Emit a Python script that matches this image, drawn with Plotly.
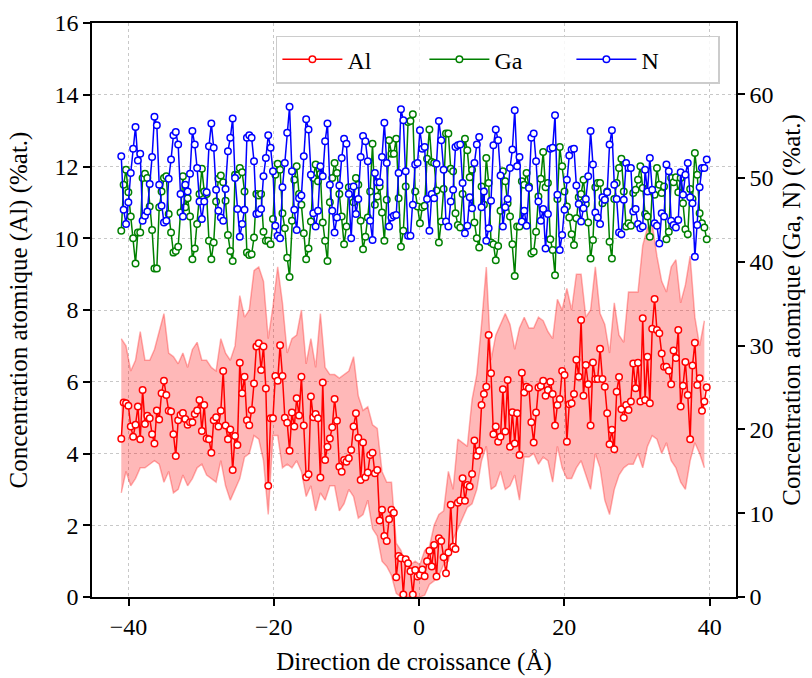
import numpy as np
import plotly.graph_objects as go

# ---------------- data ----------------
x_start, x_end = -41.0, 39.6

al = [4.41,5.42,5.40,5.33,4.75,4.47,4.80,5.31,4.40,5.77, 4.82,5.05,4.98,4.54,4.28,5.20,4.95,5.68,6.03,5.63,
      5.19,5.17,4.54,3.93,4.93,5.07,5.13,4.96,4.80,4.87, 4.87,5.10,5.20,5.49,4.63,5.35,4.42,4.40,4.02,4.93,
      5.01,4.75,5.19,6.30,4.78,4.40,4.67,3.54,4.49,4.24, 6.53,5.68,6.14,4.93,4.79,5.21,5.95,6.98,7.07,
      6.33,6.98,5.81,3.10,4.98,4.98,6.16,6.03,7.02,6.16, 5.00,4.86,4.08,5.14,4.75,5.54,5.06,6.14,4.78,3.34,
      3.42,5.59,5.01,5.10,4.98,3.33,5.98,3.82,4.19,4.42, 4.73,5.52,4.91,3.63,3.49,3.82,3.77,3.87,4.10,4.75,
      5.12,4.44,3.26,4.31,3.34,3.47,3.96,4.02,3.45,3.54, 2.13,2.43,1.70,1.56,2.17,2.43,2.35,0.55,1.14,1.08,
      0.07,1.05,0.94,0.72,0.07,0.75,
      0.57,0.61,0.77,0.58,1.00,1.29,0.85,1.45,0.57,1.64, 1.56,1.11,0.66,1.24,2.57,1.40,1.34,2.63,2.69,3.31,
      2.68,3.12,3.08,3.43,4.36,3.94,4.08,5.35,5.66,5.86, 7.30,6.24,4.54,4.75,4.33,4.47,5.79,4.61,6.05,4.19,
      5.15,4.28,5.12,3.96,6.25,5.70,5.86,5.82,4.87,4.31, 5.14,5.84,5.88,6.03,5.61,5.77,6.00,5.66,4.78,5.35,
      5.52,6.30,6.19,4.33,5.37,5.40,5.66,6.61,
      6.14,7.72,5.61,6.47,5.93,4.78,6.54,6.08,6.08,6.92, 6.08,5.86,5.12,4.26,4.66,4.12,5.72,6.13,5.23,5.00,
      5.35,5.21,5.45,6.51,5.82,6.53,5.45,7.77,5.49,6.70, 5.40,7.48,8.31,7.44,7.35,6.79,6.42,6.42,6.31,5.93,
      6.87,6.66,7.44,5.31,5.89,6.55,5.63,4.40,6.45,7.09, 5.91,6.10,5.19,5.45,5.85]

al_upper = [7.2,7.0,6.3,6.6,7.4,6.6,6.6,6.9,7.4,7.9,6.8,6.7,6.5,6.8,6.4,6.9,7.1,6.6,6.6,6.4,6.3,7.2,6.8,6.6,7.0,8.4,7.8,8.0,9.1,
            9.2,8.8,7.2,8.1,9.2,8.2,6.8,7.2,7.3,8.0,6.5,7.2,6.4,7.9,6.4,6.2,6.2,6.1,6.2,6.3,6.7,5.6,5.2,5.3,4.8,4.7,3.5,3.2,3.2,1.5,1.3,0.9,0.9,
            1.0,0.9,1.3,1.4,2.0,2.3,2.4,3.5,3.0,4.4,4.3,4.2,5.5,6.2,7.6,9.2,6.6,7.3,7.6,7.9,7.6,6.9,7.5,7.8,7.5,7.5,7.8,7.7,7.4,7.2,8.3,8.0,8.6,
            8.0,9.0,9.0,7.8,8.0,9.2,7.9,7.6,6.8,8.2,7.3,7.1,8.5,8.5,8.5,9.8,10.3,10.4,9.5,8.8,8.5,9.2,9.4,8.2,8.7,9.5,7.8,7.0,7.7]

al_lower = [2.9,3.5,3.1,3.3,3.6,3.6,3.7,3.8,3.7,3.2,3.5,2.9,3.0,3.4,3.1,3.3,3.6,3.7,3.4,3.3,3.2,3.8,3.1,2.7,3.0,3.3,3.9,4.0,4.5,
            4.4,3.8,2.3,4.5,4.5,3.6,3.7,3.6,3.8,3.5,2.8,3.1,2.4,2.9,2.7,3.1,3.1,2.4,2.6,3.0,2.8,2.2,2.3,2.7,1.9,1.7,1.0,0.85,0.6,0.1,0.0,0.0,0.0,
            0.0,0.0,0.05,0.35,0.45,0.6,0.9,1.0,1.6,1.9,2.2,2.5,2.6,3.0,3.8,4.2,3.0,3.1,3.5,3.0,3.1,3.4,2.7,3.9,3.9,4.0,3.7,3.9,3.8,3.2,4.2,3.6,3.3,
            3.3,3.6,3.8,3.4,3.0,4.0,3.6,2.7,2.3,3.0,3.4,3.6,3.7,3.7,4.0,3.6,4.2,4.5,4.4,4.0,4.3,3.8,3.6,3.2,3.0,3.8,4.3,4.0,3.6]

ga = [43.7,49.2,51.0,48.3,45.4,42.8,39.8,43.5,43.5,50.0, 50.5,50.0,46.6,43.8,39.2,39.2,46.5,48.4,50.0,50.2,
      45.7,43.5,41.1,41.3,41.8,45.9,50.2,46.5,47.6,45.4, 40.3,41.6,44.5,48.1,51.1,48.4,48.1,42.5,40.3,42.3,
      47.2,49.9,50.3,49.5,47.3,43.2,41.3,40.1,50.4,50.3, 51.2,50.7,48.4,41.1,40.8,40.9,42.9,48.1,
      47.9,48.1,43.6,42.5,42.5,42.1,45.1,50.4,51.7,51.0, 45.8,44.0,40.5,38.2,44.9,49.8,51.4,48.1,46.8,43.4,
      40.3,41.6,44.8,50.0,51.6,49.6,50.5,44.7,42.5,40.1, 47.1,50.0,51.8,50.6,48.1,45.4,42.1,44.2,48.9,48.4,
      47.1,50.0,49.2,44.9,41.5,43.0,45.3,48.4,54.1,46.8, 47.8,49.0,45.9,42.5,47.4,54.5,52.9,52.9,54.7,47.6,
      41.8,43.7,49.0,56.7,56.8,57.6,48.4,
      46.6,44.6,46.5,46.7,52.3,55.8,51.9,51.8,48.5,42.3, 44.8,48.7,55.3,55.3,51.1,50.8,45.8,44.4,44.1,48.1,
      54.7,53.3,50.1,51.0,44.7,42.8,41.7,49.0,46.8,52.4, 49.4,42.3,42.1,40.2,41.9,46.1,50.8,49.6,47.0,45.4,
      42.1,38.3,44.2,44.2,49.6,49.2,50.6,49.0,41.0,41.2, 43.6,47.8,49.9,53.1,48.9,49.4,42.7,41.4,38.4,47.5,
      53.7,51.4,48.4,46.6,45.3,43.3,42.0,45.2,
      47.7,48.1,49.8,46.9,44.7,40.4,42.6,48.9,49.4,49.4, 47.0,47.4,48.4,42.4,40.4,47.5,49.4,51.2,52.3,48.4,
      44.2,44.6,44.3,48.2,48.6,49.8,51.4,48.8,45.7,45.4, 43.0,48.4,48.0,51.2,49.2,48.2,49.0,42.7,43.6,50.0,
      49.5,50.1,48.3,50.0,47.0,43.9,43.3,48.7,47.5,53.0, 50.4,45.8,44.6,44.1,42.7]

n = [52.6,46.2,44.5,47.1,50.6,53.5,56.1,52.1,52.9,44.9, 45.5,46.0,49.3,52.5,57.3,56.3,49.2,46.7,44.7,44.9,
     49.9,52.2,55.1,55.5,54.0,48.1,45.4,49.2,48.4,50.5, 55.6,54.0,51.2,47.2,45.1,47.2,48.3,53.8,56.5,53.6,
     48.6,46.1,45.3,44.9,48.7,53.2,54.8,57.1,50.0,46.3, 43.0,44.5,46.2,54.8,55.1,54.8,52.0,45.7,
     45.8,46.3,50.2,52.4,55.1,53.6,50.8,44.3,43.1,42.8, 48.9,51.8,55.4,58.5,50.8,46.2,43.8,47.6,47.9,52.6,
     57.0,55.8,50.4,45.8,44.2,46.1,51.4,50.2,54.4,56.5, 49.2,46.1,43.5,45.3,49.1,52.4,54.7,54.1,48.1,42.8,
     49.0,45.7,47.5,52.5,55.0,54.4,52.0,44.9,42.6,50.6, 49.5,49.5,52.5,56.6,51.8,44.2,45.3,45.5,45.6,50.6,
     58.2,56.9,50.8,43.1,43.1,
     46.8,51.6,51.8,55.7,53.5,53.7,47.5,43.7,48.1,47.6, 51.7,56.8,54.5,51.0,44.8,44.2,47.2,48.6,53.7,53.9,
     54.0,49.4,43.4,44.3,47.7,46.4,51.8,54.0,54.9,46.5, 48.4,42.5,44.0,47.3,53.9,55.8,54.5,50.3,44.2,46.5,
     47.5,51.2,53.4,58.1,51.4,52.5,44.8,46.1,44.3,48.8, 54.8,55.3,52.0,47.2,44.9,46.3,41.6,45.7,53.5,53.6,
     57.5,48.0,41.4,43.2,46.2,49.8,52.7,53.4,53.5,49.1,
     46.9,44.8,46.4,47.5,50.2,55.6,51.6,45.9,45.3,44.5, 47.7,47.4,48.3,54.0,55.7,49.2,47.5,43.5,43.3,47.4,
     51.8,51.2,51.2,46.0,46.3,44.5,44.0,44.2,51.0,48.4, 52.4,48.6,44.6,44.3,42.2,45.8,45.4,51.6,50.8,44.9,
     44.4,44.1,45.0,50.7,48.0,50.4,51.8,47.7,47.0,40.6, 44.4,48.9,51.2,51.2,52.2]

x_ticks = [-40, -20, 0, 20, 40]
y_left_ticks = [0, 2, 4, 6, 8, 10, 12, 14, 16]
y_right_ticks = [0, 10, 20, 30, 40, 50, 60]

# ---------------- figure ----------------
x = np.round(np.linspace(x_start, x_end, len(al)), 3)
xb = x[::2][:len(al_upper)]

FONT = "Liberation Serif, Times New Roman, serif"
marker_common = dict(symbol="circle", size=6.5, color="white")

fig = go.Figure()
fig.add_trace(go.Scatter(x=xb, y=al_lower, mode="lines", line=dict(color="rgba(255,0,0,0.3)", width=1.5),
                         showlegend=False, hoverinfo="skip"))
fig.add_trace(go.Scatter(x=xb, y=al_upper, mode="lines", line=dict(color="rgba(255,0,0,0.3)", width=1.5),
                         fill="tonexty", fillcolor="rgba(255,0,0,0.28)", showlegend=False, hoverinfo="skip"))
fig.add_trace(go.Scatter(x=x, y=al, name="Al", mode="lines+markers",
                         line=dict(color="#ff0000", width=1.5),
                         marker=dict(**marker_common, line=dict(color="#ff0000", width=1.5))))
fig.add_trace(go.Scatter(x=x, y=ga, name="Ga", mode="lines+markers", yaxis="y2",
                         line=dict(color="#008000", width=1.5),
                         marker=dict(**marker_common, line=dict(color="#008000", width=1.5))))
fig.add_trace(go.Scatter(x=x, y=n, name="N", mode="lines+markers", yaxis="y2",
                         line=dict(color="#0000ff", width=1.5),
                         marker=dict(**marker_common, line=dict(color="#0000ff", width=1.5))))

axis_common = dict(showline=True, linecolor="black", linewidth=1.5, ticks="outside",
                   ticklen=7, tickwidth=1.5, tickcolor="black", zeroline=False, automargin=False,
                   tickfont=dict(family=FONT, size=24, color="black"))

fig.update_layout(
    width=812, height=678,
    margin=dict(l=92, r=76, t=23, b=81, autoexpand=False),
    paper_bgcolor="white", plot_bgcolor="white",
    font=dict(family=FONT, size=24, color="black"),
    xaxis=dict(**axis_common, range=[-45.03, 43.63], tickvals=x_ticks, mirror=True,
               showgrid=True, gridcolor="#c8c8c8", griddash="dot", gridwidth=1,
               title=dict(text="Direction de croissance (Å)", font=dict(family=FONT, size=25), standoff=14)),
    yaxis=dict(**axis_common, range=[0, 16], tickvals=y_left_ticks,
               showgrid=True, gridcolor="#c8c8c8", griddash="dot", gridwidth=1,
               title=dict(text="Concentration atomique (Al) (%at.)", font=dict(family=FONT, size=25), standoff=20)),
    yaxis2=dict(**axis_common, range=[0, 68.5], tickvals=y_right_ticks, overlaying="y", side="right",
                showgrid=False,
                title=dict(text="Concentration atomique (Ga, N) (%at.)", font=dict(family=FONT, size=25), standoff=10)),
    legend=dict(orientation="h", x=0.975, xanchor="right", y=0.978, yanchor="top",
                traceorder="normal",
                bgcolor="rgba(255,255,255,0.85)", bordercolor="#cccccc", borderwidth=1.5,
                font=dict(family=FONT, size=24), entrywidth=72, entrywidthmode="pixels",
                itemwidth=60),
    showlegend=True,
)

fig.write_html("out.html", post_script="document.body.style.margin='0px';",
               config={"displayModeBar": False})
